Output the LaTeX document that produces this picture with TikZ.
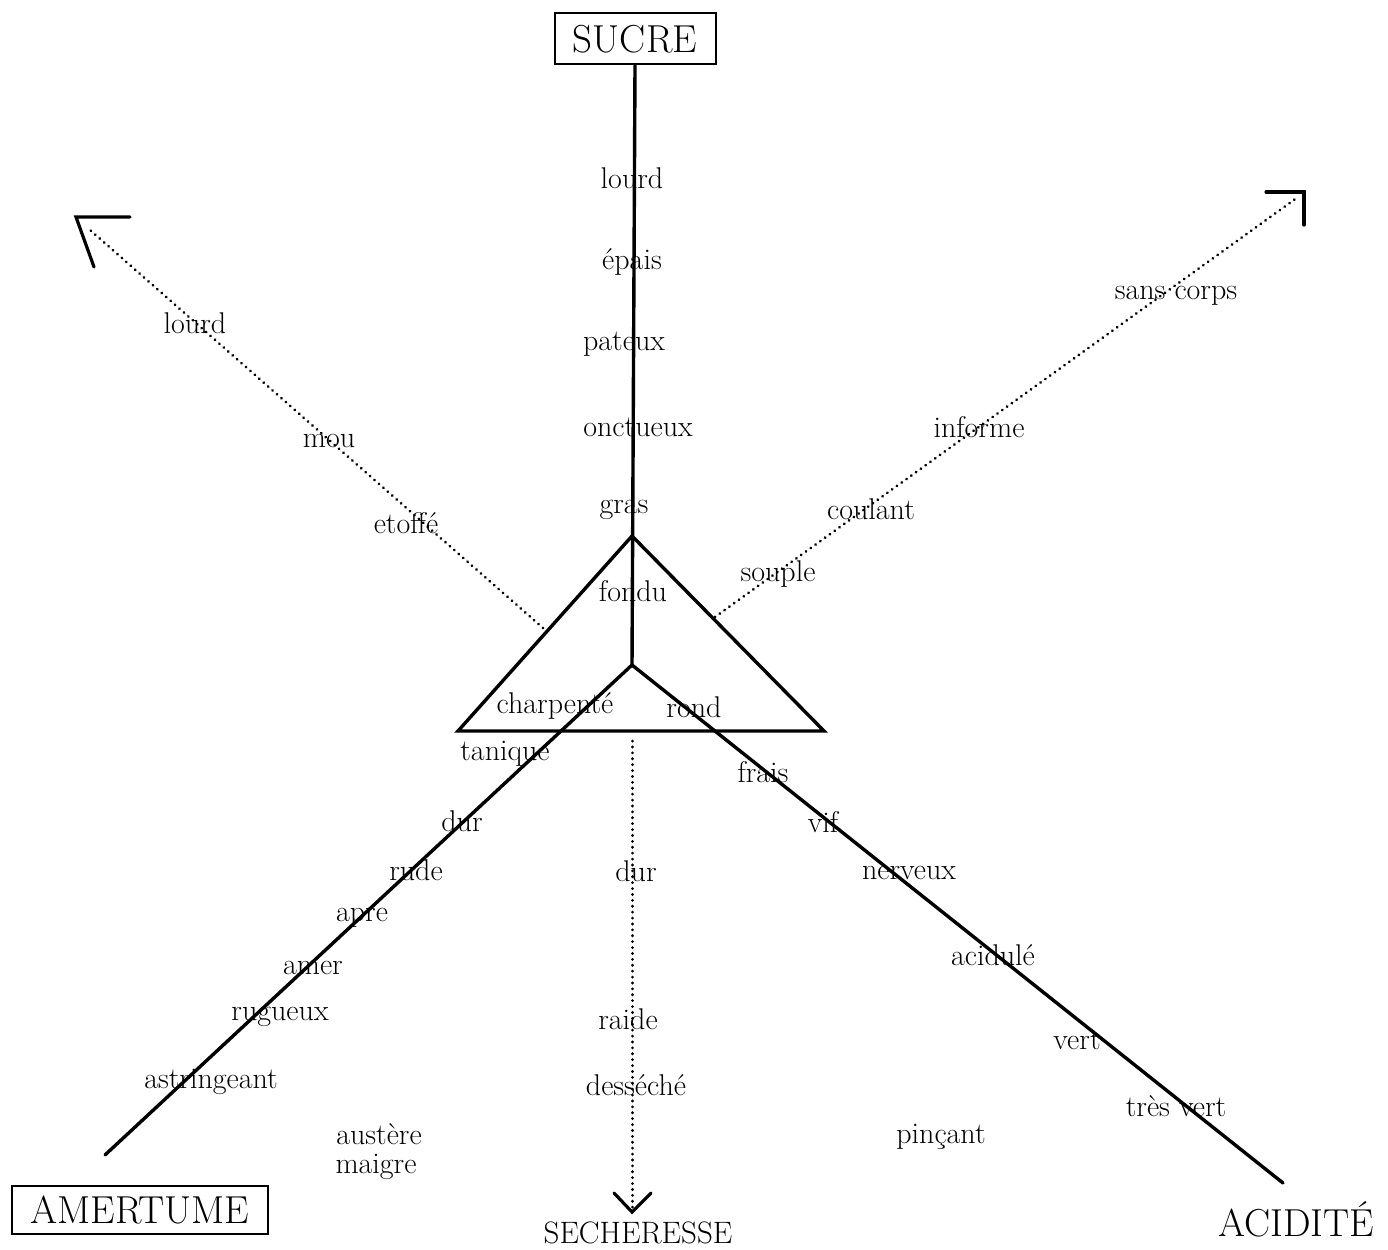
\documentclass[tikz,border=0pt]{standalone}
\usepackage{fontspec}
\begin{document}
\begin{tikzpicture}[x=1pt,y=-1pt,
  lbl/.style={font=\fontsize{30}{34}\selectfont, inner sep=0pt, anchor=center},
  big/.style={font=\fontsize{39}{43}\selectfont, inner sep=0pt},
  frame/.style={draw, line width=2pt},
  thick line/.style={line width=3.4pt, line cap=round},
  dotline/.style={line width=3pt, dash pattern=on 0.1pt off 5.8pt, line cap=round},
  tip/.style={line width=3.2pt, line cap=round, line join=miter}]
\useasboundingbox (0,0) rectangle (1388,1249);

% title boxes
\node[big, frame, minimum width=161pt, minimum height=51pt] (sucre) at (635,39) {SUCRE};
\node[big, frame, minimum width=256pt, minimum height=48pt] (amer) at (140,1210) {AMERTUME};
\node[big] (acid) at (1296,1219) {ACIDITÉ};
\node[font=\fontsize{31}{34}\selectfont, inner sep=0pt] (sech) at (638,1233) {SECHERESSE};

% key points
\coordinate (C) at (632,665);
\coordinate (T) at (632,536);
\coordinate (TL) at (458,731);
\coordinate (TR) at (824,731);
\coordinate (BL) at (105,1155);
\coordinate (BR) at (1283,1183);
\coordinate (DB) at (632,741);
\coordinate (DE) at (632,1210);
\coordinate (LS) at (543,628);
\coordinate (LE) at (90,230);
\coordinate (RS) at (715,617);
\coordinate (RE) at (1298,197);

% main axes
\draw[thick line] (sucre.south) -- (C);
\draw[thick line, line join=miter] (T) -- (TL) -- (TR) -- cycle;
\draw[thick line] (C) -- (BL);
\draw[thick line] (C) -- (BR);

% dotted axes
\draw[dotline] (DB) -- (DE);
\draw[dotline] (LS) -- (LE);
\draw[dotline] (RS) -- (RE);

% open arrow tips
\draw[tip] (614,1193) -- (632,1212) -- (651,1193);
\draw[tip] (130,217) -- (76,217) -- (94,267);
\draw[tip] (1266,192) -- (1304,192) -- (1304,225);

% vertical labels
\node[lbl] (v1) at (632,178) {lourd};
\node[lbl] (v2) at (632,262) {épais};
\node[lbl] (v3) at (624,344) {pateux};
\node[lbl] (v4) at (638,427) {onctueux};
\node[lbl] (v5) at (624,510) {gras};
\node[lbl] (v6) at (633,591) {fondu};

% left dotted labels
\node[lbl] (l1) at (195,323) {lourd};
\node[lbl] (l2) at (329,441) {mou};
\node[lbl] (l3) at (406,523) {etoffé};

% right dotted labels
\node[lbl] (r1) at (1176,296) {sans corps};
\node[lbl] (r2) at (979,427) {informe};
\node[lbl] (r3) at (871,509) {coulant};
\node[lbl] (r4) at (778,574) {souple};

% triangle labels
\node[lbl] (t1) at (555,706) {charpenté};
\node[lbl] (t2) at (694,707) {rond};

% left diagonal labels
\node[lbl] (a1) at (505,754) {tanique};
\node[lbl] (a2) at (462,821) {dur};
\node[lbl] (a3) at (416,870) {rude};
\node[lbl] (a4) at (362,918) {apre};
\node[lbl] (a5) at (313,968) {amer};
\node[lbl] (a6) at (280,1017) {rugueux};
\node[lbl] (a7) at (211,1082) {astringeant};
\node[lbl] (a8) at (379,1134) {austère};
\node[lbl] (a9) at (376,1167) {maigre};

% centre labels
\node[lbl] (c1) at (636,871) {dur};
\node[lbl] (c2) at (628,1019) {raide};
\node[lbl] (c3) at (636,1085) {desséché};

% right diagonal labels
\node[lbl] (b1) at (763,772) {frais};
\node[lbl] (b2) at (823,822) {vif};
\node[lbl] (b3) at (909,873) {nerveux};
\node[lbl] (b4) at (993,955) {acidulé};
\node[lbl] (b5) at (1077,1040) {vert};
\node[lbl] (b6) at (1176,1106) {très vert};
\node[lbl] (b7) at (941,1137) {pinçant};
\end{tikzpicture}
\end{document}
